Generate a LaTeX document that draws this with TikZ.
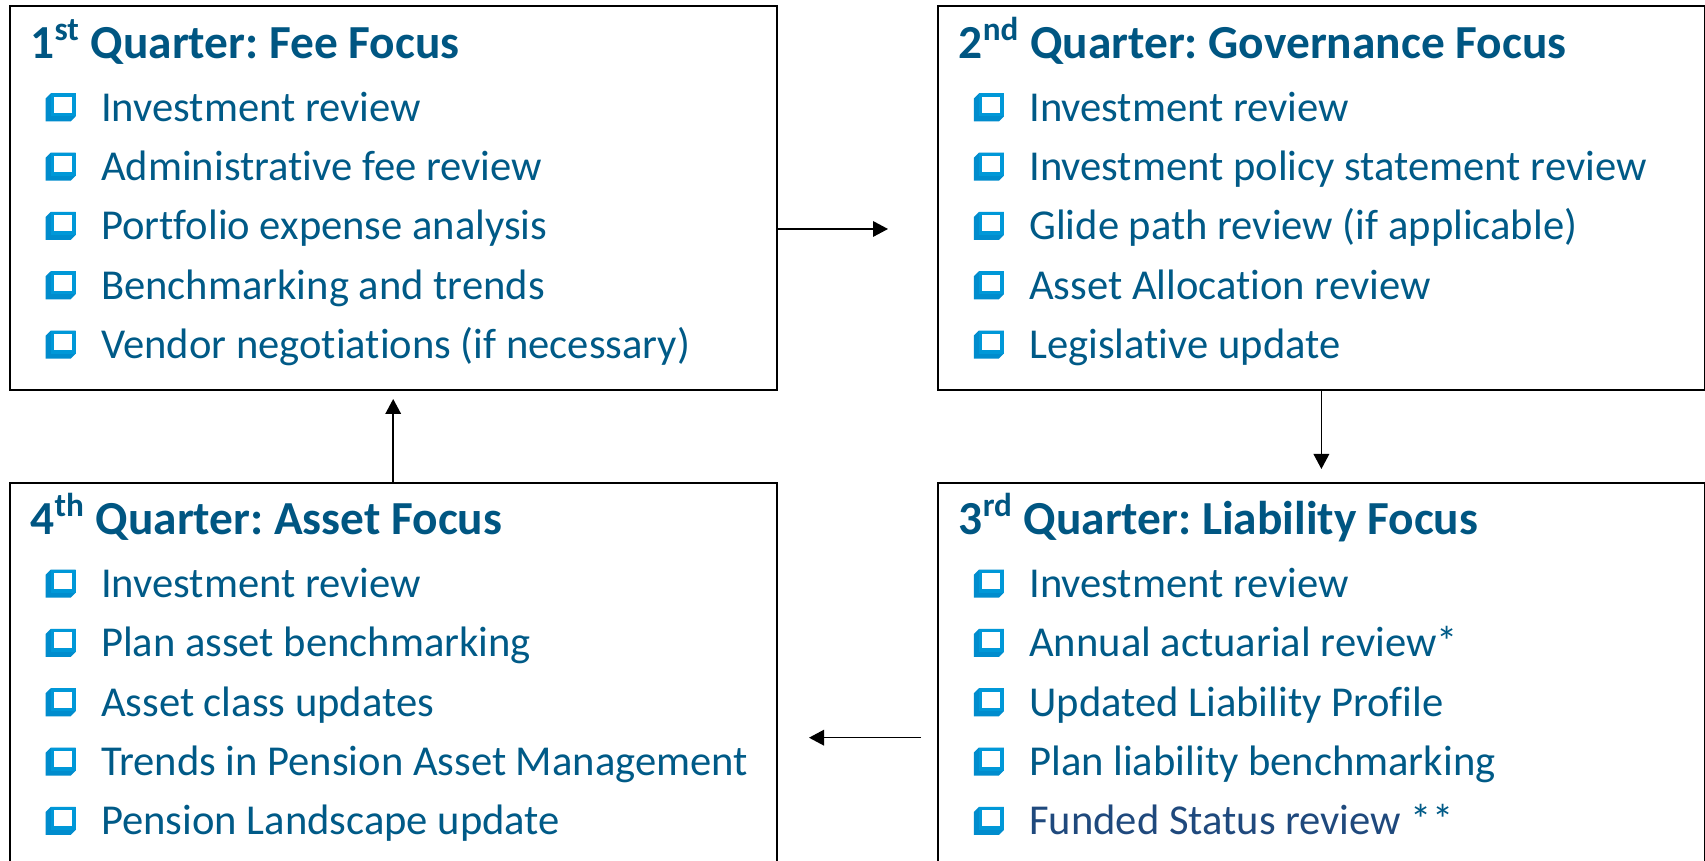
\documentclass[tikz,border=0pt]{standalone}
\usepackage{fontspec}
\setmainfont{Carlito}[Ligatures=NoCommon]
\frenchspacing
\usetikzlibrary{arrows.meta,positioning}
\definecolor{qtext}{RGB}{0,90,135}
\definecolor{qtitle}{RGB}{0,86,130}
\definecolor{chkblue}{RGB}{0,152,216}
\definecolor{chkshade}{RGB}{0,140,205}
\definecolor{fundnavy}{RGB}{31,73,125}
\tikzset{
	quarter/.style={
		draw, rectangle, line width=1pt,
		minimum width=383.5pt, minimum height=192pt,
		inner sep=0pt
	},
	qhead/.style={
		anchor=base west, inner sep=0pt, text=qtitle,
		font=\fontsize{23.7}{28}\selectfont\bfseries
	},
	qitem/.style={
		anchor=base west, inner sep=0pt, text=qtext,
		font=\fontsize{21.3}{25}\selectfont
	},
	chkbox/.pic={
		\fill[chkshade] (0,0) -- (0,23) -- (5,28) -- (30,28) -- (30,5) -- (25,0) -- cycle;
		\fill[chkblue] (5,5) rectangle (30,28);
		\fill[white] (8.5,8.5) rectangle (26.5,24.5);
	},
	flow/.style={-{Triangle[length=7.5pt,width=7.8pt]}, line width=0.75pt}
}

\begin{document}
\begin{tikzpicture}[x=0.5pt,y=0.5pt]
	\useasboundingbox (0,0) rectangle (1705,861);
	\clip (0,0) rectangle (1705,861);
	% the four quarters, clockwise from top left
	\node[quarter, anchor=north west] (q1) at (8.7,855.6) {};
	\node[quarter, right=79.6pt of q1] (q2) {};
	\node[quarter, below=45.15pt of q2] (q3) {};
	\node[quarter, left=79.6pt of q3] (q4) {};

	\node[qhead] (q1-head) at ([shift={(21.5,-53)}]q1.north west) {1\textsuperscript{st} Quarter: Fee Focus};
	\foreach \txt [count=\k] in {Investment review, Administrative fee review, Portfolio expense analysis, Benchmarking and trends, Vendor negotiations (if necessary)}{
		\pic at ([shift={(37,{-116-59.3*(\k-1)})}]q1.north west) {chkbox};
		\node[qitem] (q1-\k) at ([shift={(92,{-116-59.3*(\k-1)})}]q1.north west) {\txt};
	}

	\node[qhead] (q2-head) at ([shift={(21.5,-53)}]q2.north west) {2\textsuperscript{nd} Quarter: Governance Focus};
	\foreach \txt [count=\k] in {Investment review, Investment policy statement review, Glide path review (if applicable), Asset Allocation review, Legislative update}{
		\pic at ([shift={(37,{-116-59.3*(\k-1)})}]q2.north west) {chkbox};
		\node[qitem] (q2-\k) at ([shift={(92,{-116-59.3*(\k-1)})}]q2.north west) {\txt};
	}

	\node[qhead] (q3-head) at ([shift={(21.5,-53)}]q3.north west) {3\textsuperscript{rd} Quarter: Liability Focus};
	\foreach \txt [count=\k] in {Investment review, Annual actuarial review*, Updated Liability Profile, Plan liability benchmarking, \textcolor{fundnavy}{Funded Status review} **}{
		\pic at ([shift={(37,{-116-59.3*(\k-1)})}]q3.north west) {chkbox};
		\node[qitem] (q3-\k) at ([shift={(92,{-116-59.3*(\k-1)})}]q3.north west) {\txt};
	}

	\node[qhead] (q4-head) at ([shift={(21.5,-53)}]q4.north west) {4\textsuperscript{th} Quarter: Asset Focus};
	\foreach \txt [count=\k] in {Investment review, Plan asset benchmarking, Asset class updates, Trends in Pension Asset Management, Pension Landscape update}{
		\pic at ([shift={(37,{-116-59.3*(\k-1)})}]q4.north west) {chkbox};
		\node[qitem] (q4-\k) at ([shift={(92,{-116-59.3*(\k-1)})}]q4.north west) {\txt};
	}

	% cycle arrows
	\coordinate (a12) at (888,632);
	\coordinate (a23) at ([yshift=-38.8pt]q2.south);
	\coordinate (s34) at (921,123.3);
	\coordinate (a34) at (809,123.3);
	\coordinate (a41) at ([yshift=41.35pt]q4.north);
	\draw[flow] (q1.east |- a12) -- (a12);
	\draw[flow] (q2.south) -- (a23);
	\draw[flow] (s34) -- (a34);
	\draw[flow] (q4.north) -- (a41);
\end{tikzpicture}
\end{document}
